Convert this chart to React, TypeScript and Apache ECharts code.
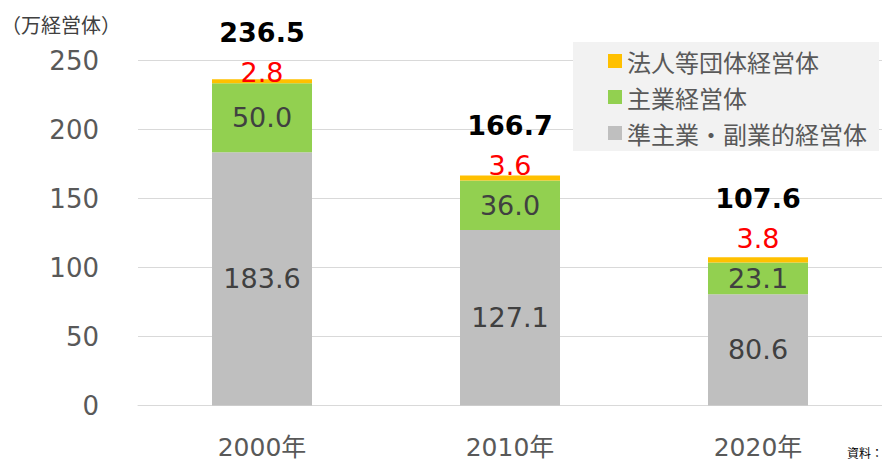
import React, { useEffect, useRef } from "react";
import * as echarts from "echarts";

const categories = ["2000年", "2010年", "2020年"];
const seriesNames = ["法人等団体経営体", "主業経営体", "準主業・副業的経営体"];
const subsidiaryValues = [183.6, 127.1, 80.6];
const mainValues = [50.0, 36.0, 23.1];
const corporateValues = [2.8, 3.6, 3.8];
const totals = [236.5, 166.7, 107.6];
const yTicks = { min: 0, max: 250, interval: 50 };
const unitLabel = "（万経営体）";
const sourceLabel = "資料：";

// label styling offsets (not data)
const topLabelOffsets = [13, 10, 1];

const NUM_FONT = "'DejaVu Sans', 'Noto Sans CJK JP', sans-serif";
const CJK_FONT = "'Noto Sans CJK JP', sans-serif";

export default function App() {
  const ref = useRef<HTMLDivElement>(null);
  useEffect(() => {
    if (!ref.current) return;
    const chart = echarts.init(ref.current, undefined, { renderer: "svg" });
    const innerLabel = {
      show: true,
      position: "inside",
      color: "#404040",
      fontSize: 27,
      fontFamily: NUM_FONT,
      formatter: (p: any) => Number(p.value).toFixed(1),
    };
    chart.setOption({
      animation: false,
      textStyle: { fontFamily: NUM_FONT },
      grid: { left: 138, width: 750, top: 60.5, bottom: 57.5 },
      graphic: [
        {
          type: "rect",
          z: 1,
          shape: { x: 573, y: 42, width: 306, height: 109 },
          style: { fill: "#F2F2F2" },
        },
        {
          type: "text",
          z: 5,
          x: 1,
          y: 24,
          style: {
            text: unitLabel,
            fontSize: 20,
            fontFamily: CJK_FONT,
            fill: "#404040",
            verticalAlign: "middle",
          },
        },
        {
          type: "text",
          z: 5,
          x: 847,
          y: 452,
          style: {
            text: sourceLabel,
            fontSize: 12,
            fontFamily: CJK_FONT,
            fill: "#000000",
            verticalAlign: "middle",
          },
        },
      ],
      legend: {
        orient: "vertical",
        left: 603,
        top: 46,
        padding: [0, 0, 0, 5],
        itemWidth: 14,
        itemHeight: 14,
        itemGap: 6,
        icon: "rect",
        data: seriesNames,
        textStyle: {
          fontSize: 24,
          fontFamily: CJK_FONT,
          color: "#595959",
          lineHeight: 30,
        },
      },
      xAxis: {
        type: "category",
        data: categories,
        axisLine: { lineStyle: { color: "#D9D9D9", width: 1 } },
        axisTick: { show: false },
        axisLabel: {
          color: "#595959",
          fontSize: 25,
          fontFamily: NUM_FONT,
          margin: 29,
        },
      },
      yAxis: {
        type: "value",
        min: yTicks.min,
        max: yTicks.max,
        interval: yTicks.interval,
        axisLine: { show: false },
        axisTick: { show: false },
        splitLine: { lineStyle: { color: "#D9D9D9", width: 1 } },
        axisLabel: {
          color: "#595959",
          fontSize: 26,
          fontFamily: NUM_FONT,
          margin: 39,
        },
      },
      series: [
        {
          name: seriesNames[2],
          type: "bar",
          stack: "total",
          barWidth: 100,
          itemStyle: { color: "#BFBFBF" },
          label: innerLabel,
          data: subsidiaryValues,
        },
        {
          name: seriesNames[1],
          type: "bar",
          stack: "total",
          barWidth: 100,
          itemStyle: { color: "#92D050" },
          label: innerLabel,
          data: mainValues,
        },
        {
          name: seriesNames[0],
          type: "bar",
          stack: "total",
          barWidth: 100,
          itemStyle: { color: "#FFC000" },
          label: {
            show: true,
            position: "top",
            distance: 0,
            formatter: (p: any) =>
              `{t|${totals[p.dataIndex].toFixed(1)}}\n{r|${Number(p.value).toFixed(1)}}`,
            rich: {
              t: {
                fontSize: 27,
                fontWeight: "bold",
                color: "#000000",
                fontFamily: NUM_FONT,
                lineHeight: 40,
              },
              r: {
                fontSize: 27,
                color: "#FF0000",
                fontFamily: NUM_FONT,
                lineHeight: 40,
              },
            },
          },
          data: corporateValues.map((v, i) => ({
            value: v,
            label: { offset: [0, topLabelOffsets[i]] },
          })),
        },
      ],
    });
    return () => chart.dispose();
  }, []);
  return <div ref={ref} style={{ width: 882, height: 463, position: "absolute", left: 0, top: 0 }} />;
}
